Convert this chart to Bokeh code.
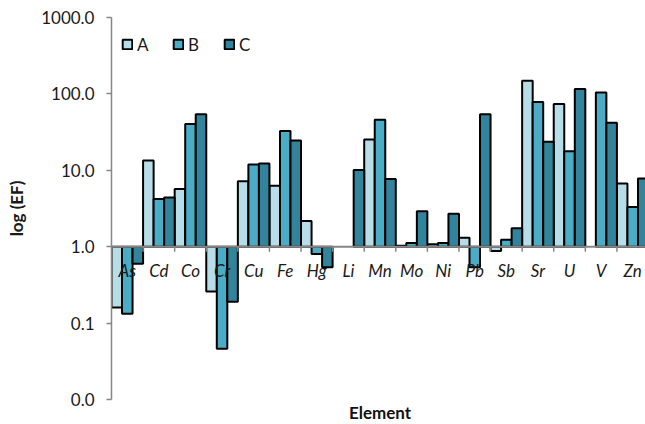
from bokeh.plotting import figure
from bokeh.models import (FactorRange, FixedTicker, CustomJSTickFormatter,
                          ColumnDataSource, Title, Legend, LegendItem, Span)
from bokeh.core.properties import value
from bokeh.transform import dodge
from bokeh.embed import file_html
from bokeh.resources import INLINE

elements = ["As", "Cd", "Co", "Cr", "Cu", "Fe", "Hg", "Li", "Mn", "Mo", "Ni", "Pb", "Sb", "Sr", "U", "V", "Zn"]
series_names = ["A", "B", "C"]
A = [0.16, 13.4, 5.7, 0.26, 7.2, 6.3, 2.17, None, 25.3, 1.03, 1.08, 1.31, 0.88, 149.0, 74.0, None, 6.7]
B = [0.133, 4.2, 40.5, 0.046, 11.9, 32.8, 0.80, None, 46.0, 1.12, 1.12, 0.54, 1.23, 78.6, 17.8, 104.0, 3.3]
C = [0.60, 4.4, 54.0, 0.19, 12.3, 24.5, 0.54, 10.1, 7.7, 2.9, 2.7, 54.0, 1.74, 23.6, 116.0, 41.8, 7.8]
y_ticks = [0.01, 0.1, 1, 10, 100, 1000]
colors = ["#B7DEE8", "#4BACC6", "#31849B"]
FONT = "Lato"
FS = "17px"
BASE = 1.0
TICK_END = 0.86  # end of the tick marks just below the baseline

p = figure(frame_width=537, frame_height=382, x_range=FactorRange(*elements, range_padding=0),
           y_axis_type="log", y_range=(0.01, 1000), output_backend="svg",
           toolbar_location=None, min_border_left=111, min_border_top=17,
           min_border_right=0, min_border_bottom=0, x_axis_location=None)
p.outline_line_color = None
p.grid.grid_line_color = None
p.background_fill_color = "white"

# y axis
ya = p.yaxis[0]
ya.ticker = FixedTicker(ticks=y_ticks, minor_ticks=[])
ya.formatter = CustomJSTickFormatter(code="return tick.toFixed(1)")
ya.axis_line_color = "#868686"
ya.axis_line_width = 1.5
ya.major_tick_line_color = "#868686"
ya.major_tick_line_width = 1.5
ya.major_tick_in = 0
ya.major_tick_out = 5
ya.minor_tick_line_color = None
ya.major_label_text_font = FONT
ya.major_label_text_font_size = FS
ya.major_label_text_color = "#1a1a1a"
ya.major_label_standoff = 12
ya.axis_label = "log (EF)"
ya.axis_label_text_font = FONT
ya.axis_label_text_font_style = "bold"
ya.axis_label_text_font_size = FS
ya.axis_label_text_color = "#1a1a1a"
ya.axis_label_standoff = 11

renderers = []
offsets = [-1/3, 0, 1/3]
for name, vals, col, off in zip(series_names, [A, B, C], colors, offsets):
    xs = [e for e, v in zip(elements, vals) if v is not None]
    ys = [v for v in vals if v is not None]
    src = ColumnDataSource(dict(x=xs, top=ys, bottom=[BASE] * len(ys)))
    r = p.vbar(x=dodge("x", off, range=p.x_range), top="top", bottom="bottom", width=1/3,
               source=src, fill_color=col, line_color="#000000", line_alpha=1.0, line_width=2)
    renderers.append((name, r))

# baseline at 1.0
p.add_layout(Span(location=BASE, dimension="width", line_color="#868686", line_width=2))

# boundary tick marks between categories
tsrc = ColumnDataSource(dict(x=elements[:-1], y0=[BASE] * (len(elements) - 1),
                             y1=[TICK_END] * (len(elements) - 1)))
p.segment(x0=dodge("x", 0.5, range=p.x_range), x1=dodge("x", 0.5, range=p.x_range),
          y0="y0", y1="y1", source=tsrc, line_color="#868686", line_width=1.5)

# category labels just below the baseline
lsrc = ColumnDataSource(dict(x=elements, y=[BASE] * len(elements), t=elements))
p.text(x="x", y="y", text="t", source=lsrc, text_font=value(FONT), text_font_style="italic",
       text_font_size=FS, text_color="#1a1a1a", text_align="center",
       text_baseline="middle", y_offset=24)

p.add_layout(Title(text="Element", align="center", text_font=FONT, text_font_style="bold",
                   text_font_size=FS, text_color="#111111", standoff=0, offset=0), "below")

legend = Legend(items=[LegendItem(label=n, renderers=[r]) for n, r in renderers],
                orientation="horizontal", location="top_left")
legend.border_line_color = None
legend.background_fill_alpha = 0
legend.label_text_font = FONT
legend.label_text_font_size = FS
legend.label_text_color = "#1a1a1a"
legend.glyph_width = 12
legend.glyph_height = 12
legend.label_height = 34
legend.label_standoff = 4
legend.spacing = 15
legend.margin = 10
legend.padding = 6
p.add_layout(legend, "center")

open("out.html", "w").write(file_html(p, INLINE))
